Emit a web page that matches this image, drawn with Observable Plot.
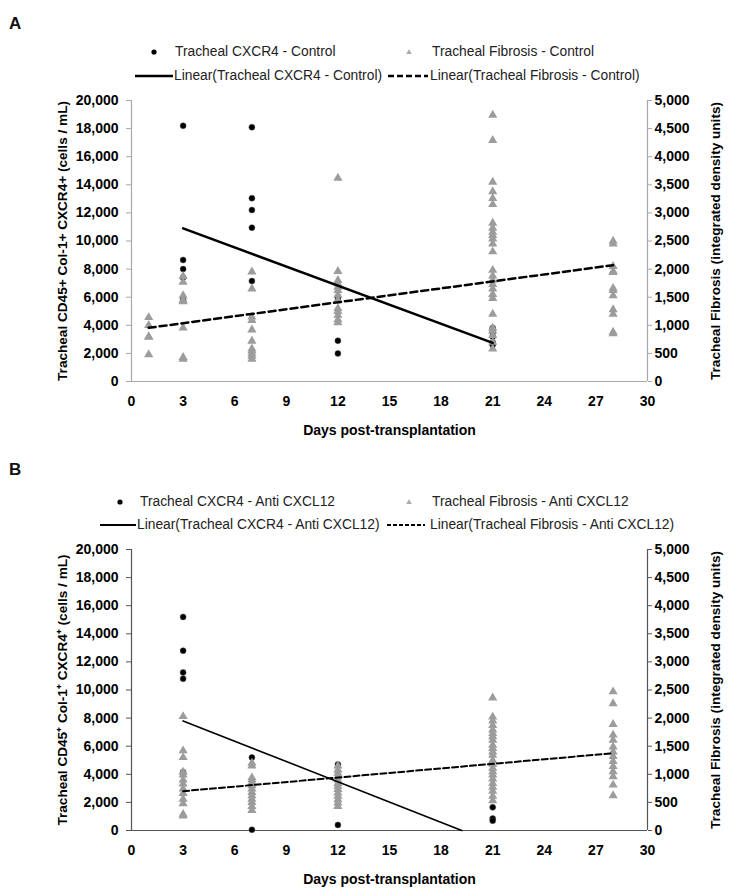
<!DOCTYPE html>
<html><head><meta charset="utf-8">
<script src="https://cdn.jsdelivr.net/npm/d3@7"></script>
<script src="https://cdn.jsdelivr.net/npm/@observablehq/plot@0.6"></script>
<style>
body{margin:0;background:#fff;font-family:"Liberation Sans",Arial,sans-serif;}
#root{position:relative;width:729px;height:895px;overflow:hidden;background:#fff;}
.abs{position:absolute;}
.letter{font-weight:bold;font-size:17px;line-height:20px;color:#111;}
.leg{font-size:13.8px;color:#222;white-space:nowrap;line-height:16px;}
</style></head><body><div id="root"></div>
<script>
// ---------- DATA ----------
const xTicks = [0, 3, 6, 9, 12, 15, 18, 21, 24, 27, 30];
const leftTicks = [0, 2000, 4000, 6000, 8000, 10000, 12000, 14000, 16000, 18000, 20000];
const rightTicks = [0, 500, 1000, 1500, 2000, 2500, 3000, 3500, 4000, 4500, 5000];
const leftMax = 20000, rightMax = 5000;

// Panel A: Control (CXCR4 in cells/mL, left axis)
const cxcr4Control = [
  [3, [18200, 8650, 8000, 7400, 5800]],
  [7, [18100, 13050, 12200, 10950, 7150]],
  [12, [6000, 5800, 2900, 2000]],
  [21, [3800, 3500, 3200, 2800, 2600]]
];
// Panel A: Control fibrosis (integrated density units, right axis)
const fibrosisControl = [
  [1, [1140, 1000, 800, 790, 480]],
  [3, [1870, 1770, 1530, 1450, 1420, 955, 430, 400]],
  [7, [1950, 1650, 1150, 1090, 920, 720, 580, 540, 490, 450, 400]],
  [12, [3620, 1960, 1800, 1740, 1680, 1620, 1540, 1450, 1300, 1250, 1180, 1100, 1050]],
  [21, [4740, 4290, 3550, 3380, 3260, 3150, 2820, 2730, 2660, 2600, 2540, 2450, 2310, 1980, 1880, 1800, 1730, 1650, 1550, 1480, 1200, 950, 900, 820, 700, 580]],
  [28, [2500, 2450, 2050, 1960, 1940, 1660, 1620, 1530, 1280, 1200, 880, 850]]
];
const trendCxcr4ControlDays = [3, 21];
const trendCxcr4ControlVals = [10900, 2750];
const trendFibrosisControlDays = [1, 28];
const trendFibrosisControlVals = [955, 2070];

// Panel B: Anti CXCL12
const cxcr4Anti = [
  [3, [15200, 12800, 11250, 10800, 4150]],
  [7, [5200, 50]],
  [12, [4700, 400]],
  [21, [1650, 850, 700]]
];
const fibrosisAnti = [
  [3, [2030, 1420, 1300, 1040, 990, 900, 830, 740, 660, 560, 480, 290, 260]],
  [7, [1200, 1150, 940, 900, 850, 800, 740, 680, 620, 560, 500, 430, 360]],
  [12, [1150, 1080, 1020, 960, 900, 840, 790, 730, 670, 610, 550, 490, 430]],
  [21, [2360, 2020, 1950, 1870, 1790, 1730, 1670, 1610, 1520, 1460, 1400, 1340, 1250, 1180, 1110, 1050, 990, 920, 840, 770, 700, 610, 530]],
  [28, [2470, 2260, 1890, 1700, 1610, 1490, 1400, 1320, 1230, 1140, 1050, 960, 810, 620]]
];
const trendCxcr4AntiDays = [3, 19.2];
const trendCxcr4AntiVals = [7800, 0];
const trendFibrosisAntiDays = [3, 28];
const trendFibrosisAntiVals = [700, 1375];

const legendA = ["Tracheal CXCR4 - Control", "Tracheal Fibrosis - Control", "Linear(Tracheal CXCR4 - Control)", "Linear(Tracheal Fibrosis - Control)"];
const legendB = ["Tracheal CXCR4 - Anti CXCL12", "Tracheal Fibrosis - Anti CXCL12", "Linear(Tracheal CXCR4 - Anti CXCL12)", "Linear(Tracheal Fibrosis - Anti CXCL12)"];
const yTitleA = "Tracheal CD45+ Col-1+ CXCR4+ (cells / mL)";
const yTitleB = "Tracheal CD45\u207A Col-1\u207A CXCR4\u207A (cells / mL)";
const y2Title = "Tracheal Fibrosis (integrated density units)";
const xTitle = "Days post-transplantation";

// ---------- DRAWING ----------
const root = document.getElementById("root");
const k = leftMax / rightMax;
const fmt = d3.format(",");

function flat(groups, scale) {
  return groups.flatMap(([d, vs]) => vs.map(v => ({day: d, v: v * scale})));
}
function zipTrend(days, vals, scale) {
  return days.map((d, i) => ({day: d, v: vals[i] * scale}));
}

function panel(opts) {
  const cx = flat(opts.cx, 1);
  const fib = flat(opts.fib, k);
  const tCx = zipTrend(opts.tCxDays, opts.tCxVals, 1);
  const tFib = zipTrend(opts.tFibDays, opts.tFibVals, k);
  const ac = opts.axisColor;
  const svg = Plot.plot({
    width: 729, height: 355,
    marginTop: 10, marginBottom: 64, marginLeft: 131, marginRight: 82,
    style: {fontFamily: "'Liberation Sans', Arial, sans-serif", fontSize: "14px", fontWeight: "bold", color: "#000", background: "transparent", overflow: "visible"},
    x: {domain: [0, 30]},
    y: {domain: [0, leftMax]},
    marks: [
      Plot.axisY({anchor: "left", ticks: leftTicks, tickFormat: fmt, tickSize: 5, tickPadding: 8, stroke: ac, fill: "#000", label: null}),
      Plot.axisY({anchor: "right", ticks: rightTicks.map(t => t * k), tickFormat: d => fmt(d / k), tickSize: 4, tickPadding: 3, stroke: ac, fill: "#000", label: null, textAnchor: "start"}),
      Plot.axisX({ticks: xTicks, tickSize: 0, tickPadding: 15, fill: "#000", label: null}),
      Plot.ruleX([0], {stroke: ac, strokeWidth: 1.2}),
      Plot.ruleX([30], {stroke: ac, strokeWidth: 1.2}),
      Plot.ruleY([0], {stroke: ac, strokeWidth: 1.2}),
      Plot.dot(cx, {x: "day", y: "v", r: 3, fill: "#000", stroke: "#555", strokeWidth: 0.5}),
      Plot.dot(fib, {x: "day", y: "v", symbol: "triangle", r: 3.4, fill: "#9c9c9c"}),
      Plot.line(tCx, {x: "day", y: "v", stroke: "#000", strokeWidth: opts.solidW}),
      Plot.line(tFib, {x: "day", y: "v", stroke: "#000", strokeWidth: opts.dashW, strokeDasharray: opts.dash}),
      Plot.text([opts.yTitle], {frameAnchor: "left", dx: -69, rotate: -90, textAnchor: "middle", lineAnchor: "middle", fontSize: 13.6, fontWeight: "bold", fill: "#000"}),
      Plot.text([y2Title], {frameAnchor: "right", dx: 68, rotate: -90, textAnchor: "middle", lineAnchor: "middle", fontSize: 13.6, fontWeight: "bold", fill: "#000"}),
      Plot.text([xTitle], {frameAnchor: "bottom", dy: 49, textAnchor: "middle", lineAnchor: "middle", fontSize: 14, fontWeight: "bold", fill: "#000"})
    ]
  });
  svg.style.position = "absolute";
  svg.style.left = "0px";
  svg.style.top = opts.top + "px";
  root.appendChild(svg);
}

function addText(txt, x, yc, cls) {
  const d = document.createElement("div");
  d.className = "abs " + cls;
  d.textContent = txt;
  d.style.left = x + "px";
  d.style.top = (yc - 8) + "px";
  root.appendChild(d);
}
function addSym(kind, x1, x2, yc, opt) {
  const ns = "http://www.w3.org/2000/svg";
  const s = document.createElementNS(ns, "svg");
  s.setAttribute("width", x2 - x1); s.setAttribute("height", 10);
  s.style.position = "absolute"; s.style.left = x1 + "px"; s.style.top = (yc - 5) + "px";
  const w = x2 - x1;
  let el;
  if (kind === "dot") {
    el = document.createElementNS(ns, "circle");
    el.setAttribute("cx", w / 2); el.setAttribute("cy", 5); el.setAttribute("r", 2.6); el.setAttribute("fill", "#000");
  } else if (kind === "tri") {
    el = document.createElementNS(ns, "path");
    const c = w / 2;
    el.setAttribute("d", `M${c},2.2L${c + 2.8},7L${c - 2.8},7Z`); el.setAttribute("fill", "#aaa");
  } else {
    el = document.createElementNS(ns, "line");
    el.setAttribute("x1", 0); el.setAttribute("x2", w); el.setAttribute("y1", 5); el.setAttribute("y2", 5);
    el.setAttribute("stroke", "#000"); el.setAttribute("stroke-width", opt.w);
    if (opt.dash) el.setAttribute("stroke-dasharray", opt.dash);
  }
  s.appendChild(el);
  root.appendChild(s);
}

// Panel A
addText("A", 9, 22, "letter");
addSym("dot", 148, 160, 52);
addText(legendA[0], 175, 52, "leg");
addSym("tri", 403, 415, 52);
addText(legendA[1], 432, 52, "leg");
addSym("line", 135, 173, 76, {w: 2.5});
addText(legendA[2], 174, 76, "leg");
addSym("line", 388, 428, 76, {w: 2.5, dash: "6,3"});
addText(legendA[3], 430, 76, "leg");
panel({top: 90, cx: cxcr4Control, fib: fibrosisControl,
  tCxDays: trendCxcr4ControlDays, tCxVals: trendCxcr4ControlVals,
  tFibDays: trendFibrosisControlDays, tFibVals: trendFibrosisControlVals,
  axisColor: "#a8a8a8", solidW: 2.5, dashW: 2.5, dash: "7,4", yTitle: yTitleA});

// Panel B
addText("B", 9, 468, "letter");
addSym("dot", 114, 126, 502);
addText(legendB[0], 140, 502, "leg");
addSym("tri", 403, 415, 502);
addText(legendB[1], 432, 502, "leg");
addSym("line", 100, 136, 525, {w: 1.8});
addText(legendB[2], 137, 525, "leg");
addSym("line", 387, 425, 525, {w: 1.8, dash: "4,2"});
addText(legendB[3], 430, 525, "leg");
panel({top: 539, cx: cxcr4Anti, fib: fibrosisAnti,
  tCxDays: trendCxcr4AntiDays, tCxVals: trendCxcr4AntiVals,
  tFibDays: trendFibrosisAntiDays, tFibVals: trendFibrosisAntiVals,
  axisColor: "#555", solidW: 1.6, dashW: 2, dash: "6,3", yTitle: yTitleB});
</script></body></html>
